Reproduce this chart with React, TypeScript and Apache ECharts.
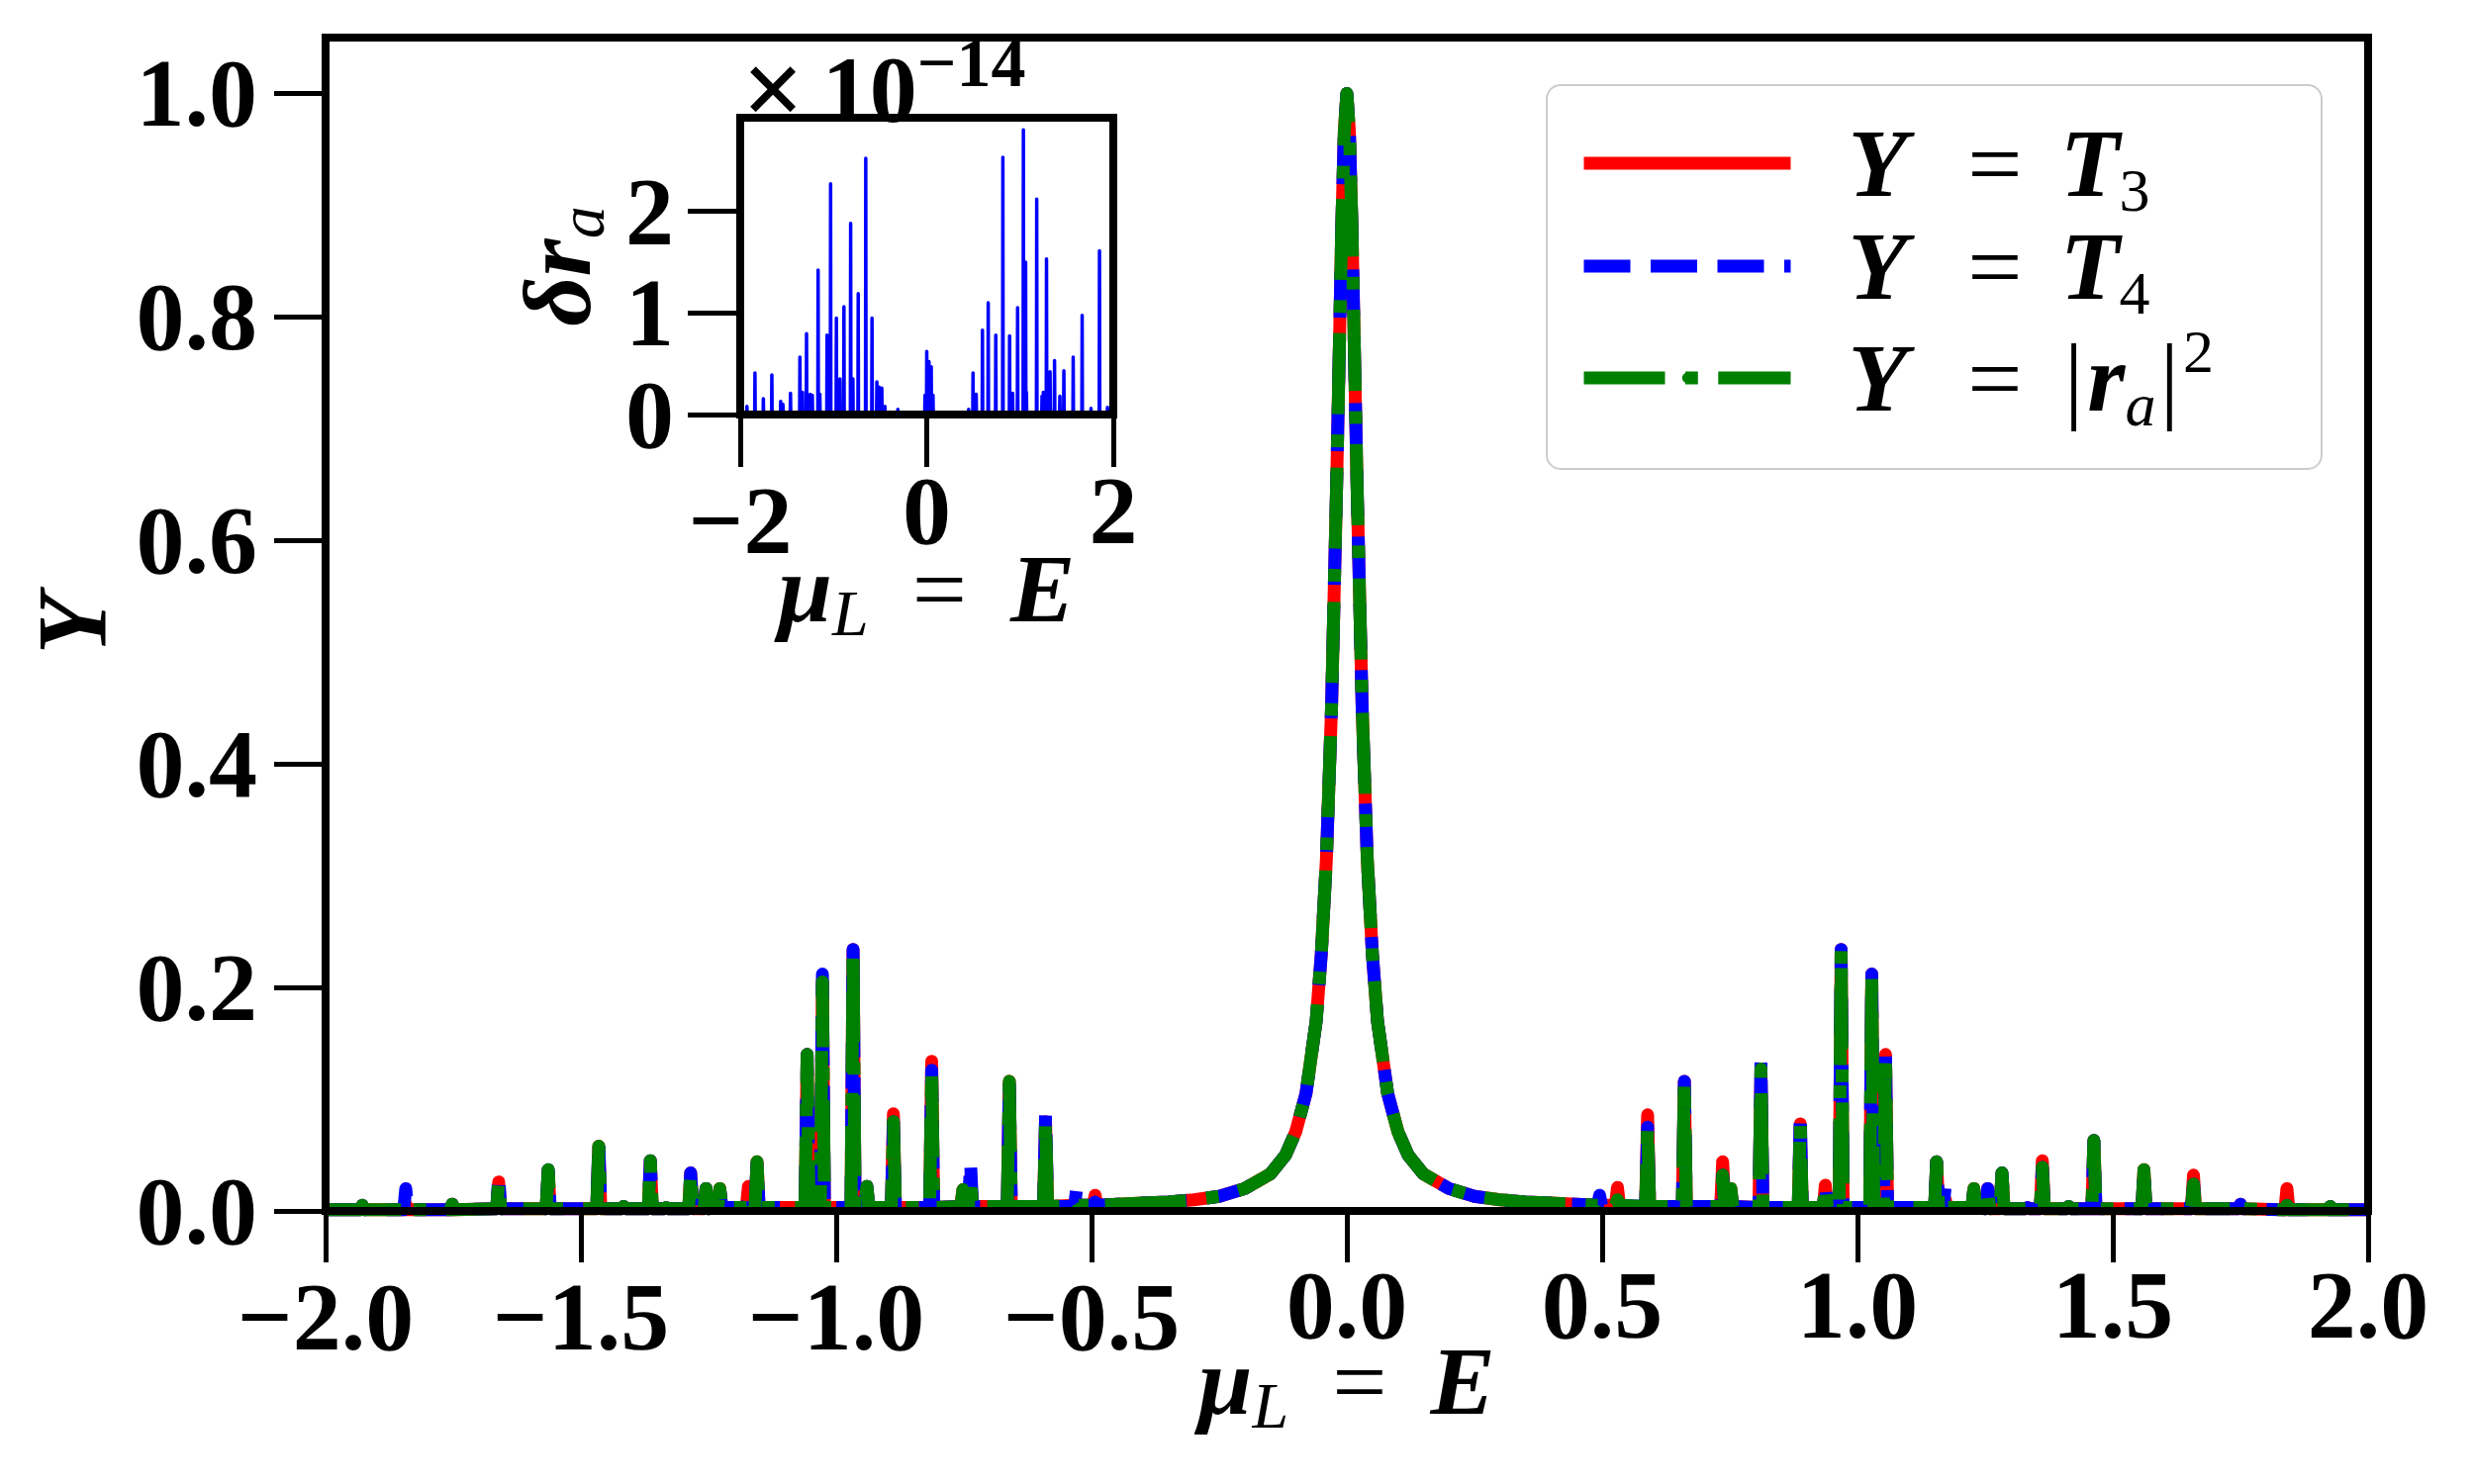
import React, { useEffect, useRef } from "react";
import * as echarts from "echarts";

const FONT = "Liberation Serif";

// ---------- Main panel: smooth background (wings + central resonance) ----------
const baseX = [
  -2.0, -1.5, -1.0, -0.6, -0.5, -0.45, -0.4, -0.35, -0.3, -0.25, -0.2, -0.15, -0.12, -0.1, -0.08, -0.06,
  -0.05, -0.04, -0.03, -0.02, -0.01, -0.005, 0, 0.005, 0.01, 0.02, 0.03, 0.04, 0.05, 0.06, 0.08, 0.1, 0.12,
  0.15, 0.2, 0.25, 0.3, 0.35, 0.4, 0.45, 0.5, 0.6, 1.0, 1.5, 2.0,
];
const baseY = [
  0.001, 0.002, 0.003, 0.004, 0.005, 0.006, 0.007, 0.008, 0.01, 0.013, 0.02, 0.033, 0.05, 0.071, 0.105, 0.17,
  0.23, 0.315, 0.45, 0.65, 0.88, 0.966, 1.0, 0.966, 0.88, 0.65, 0.45, 0.315, 0.23, 0.17, 0.105, 0.071, 0.05,
  0.033, 0.02, 0.013, 0.01, 0.008, 0.007, 0.006, 0.005, 0.004, 0.003, 0.002, 0.001,
];

// ---------- Main panel: narrow resonances (position, height per curve) ----------
const peakX = [
  -1.928, -1.843, -1.752, -1.661, -1.564, -1.465, -1.416, -1.364, -1.333, -1.285, -1.255, -1.228, -1.172,
  -1.155, -1.057, -1.027, -0.967, -0.94, -0.888, -0.84, -0.813, -0.752, -0.737, -0.661, -0.59, -0.529,
  -0.493, 0.495, 0.53, 0.589, 0.661, 0.736, 0.752, 0.811, 0.888, 0.937, 0.968, 1.028, 1.055, 1.155, 1.172,
  1.228, 1.255, 1.283, 1.333, 1.362, 1.414, 1.463, 1.561, 1.658, 1.75, 1.841, 1.926,
];
const peakT3 = [
  0.005, 0.006, 0.006, 0.026, 0.036, 0.058, 0.004, 0.045, 0.003, 0.034, 0.02, 0.02, 0.022,
  0.044, 0.14, 0.205, 0.234, 0.022, 0.087, 0.003, 0.134, 0.019, 0.03, 0.116, 0.08, 0.008,
  0.014, 0.008, 0.021, 0.086, 0.116, 0.044, 0.02, 0.127, 0.078, 0.023, 0.234, 0.212, 0.14, 0.044, 0.01,
  0.02, 0.02, 0.034, 0.003, 0.045, 0.004, 0.063, 0.037, 0.032, 0.006, 0.02, 0.004,
];
const peakT4 = [
  0.005, 0.02, 0.006, 0.032, 0.037, 0.063, 0.004, 0.045, 0.003, 0.034, 0.02, 0.02, 0.013,
  0.044, 0.14, 0.212, 0.234, 0.022, 0.08, 0.003, 0.126, 0.019, 0.044, 0.116, 0.086, 0.021,
  0.008, 0.014, 0.01, 0.075, 0.116, 0.032, 0.02, 0.134, 0.087, 0.023, 0.234, 0.212, 0.14, 0.044, 0.023,
  0.02, 0.02, 0.034, 0.003, 0.039, 0.004, 0.063, 0.037, 0.024, 0.006, 0.005, 0.004,
];
const peakRa = [
  0.005, 0.006, 0.006, 0.026, 0.037, 0.058, 0.004, 0.045, 0.003, 0.034, 0.02, 0.02, 0.013,
  0.044, 0.14, 0.205, 0.234, 0.022, 0.08, 0.003, 0.126, 0.019, 0.03, 0.116, 0.08, 0.008,
  0.008, 0.008, 0.01, 0.075, 0.116, 0.032, 0.02, 0.127, 0.078, 0.023, 0.234, 0.212, 0.14, 0.044, 0.01,
  0.02, 0.02, 0.034, 0.003, 0.039, 0.004, 0.063, 0.037, 0.024, 0.006, 0.005, 0.004,
];

// ---------- Inset: delta r_a (in units of 1e-14) ----------
const insetPeakX = [
  -1.928, -1.842, -1.752, -1.661, -1.566, -1.542, -1.461, -1.36, -1.332, -1.289, -1.25, -1.227, -1.165,
  -1.146, -1.069, -1.031, -0.969, -0.931, -0.888, -0.816, -0.792, -0.735, -0.654, -0.587, -0.535, -0.511,
  -0.482, -0.449, -0.31, -0.019, 0.0, 0.024, 0.048, 0.067, 0.449, 0.496, 0.53, 0.597, 0.659, 0.74, 0.816,
  0.888, 0.921, 0.974, 1.036, 1.06, 1.069, 1.179, 1.236, 1.25, 1.284, 1.322, 1.37, 1.427, 1.47, 1.57,
  1.666, 1.761, 1.852, 1.938,
];
const insetPeakY = [
  0.08, 0.41, 0.155, 0.39, 0.13, 0.1, 0.21, 0.565, 0.22, 0.795, 0.2, 0.19, 1.42,
  0.2, 0.78, 2.27, 0.95, 0.35, 1.06, 1.88, 0.35, 1.19, 2.52, 0.95, 0.32, 0.27,
  0.26, 0.08, 0.05, 0.19, 0.62, 0.52, 0.47, 0.19, 0.05, 0.41, 0.2, 0.83, 1.1, 0.78, 2.53,
  0.775, 0.21, 1.05, 2.8, 1.5, 0.22, 2.12, 0.18, 0.22, 1.53, 0.42, 0.53, 0.18, 0.43, 0.565,
  0.975, 0.06, 1.61, 0.07,
];

// ---------- Ticks ----------
const xTickStep = 0.5;
const yTicks = [0, 0.2, 0.4, 0.6, 0.8, 1.0];
const insetXTicks = [-2, 0, 2];
const insetYTicks = [0, 1, 2];

const SERIES_NAMES = ["T3", "T4", "ra"];
const LEGEND_TEXT: Record<string, string> = {
  T3: "{y0|Y}{eq|=}{m|T}{sub|3}",
  T4: "{y0|Y}{eq|=}{m|T}{sub|4}",
  ra: "{y3|Y}{eq|=}{bar||}{m|r}{subi|a}{bar||}{sup|2}",
};
const LEGEND_TOPS = [107, 211, 324];

const SPIKE = 0.004;
const INSET_SPIKE = 0.003;

function nearestBase(x: number) {
  let best = 0;
  for (let i = 1; i < baseX.length; i++) {
    if (Math.abs(baseX[i] - x) < Math.abs(baseX[best] - x)) best = i;
  }
  return baseY[best];
}

function buildCurve(h: number[]) {
  const pts: number[][] = baseX.map((x, i) => [x, baseY[i]]);
  peakX.forEach((x, i) => {
    const f = nearestBase(x);
    pts.push([x - SPIKE, f], [x, h[i]], [x + SPIKE, f]);
  });
  pts.sort((a, b) => a[0] - b[0]);
  return pts;
}

function buildInset() {
  const pts: number[][] = [[-2, 0]];
  insetPeakX.forEach((x, i) => {
    pts.push([x - INSET_SPIKE, 0], [x, insetPeakY[i]], [x + INSET_SPIKE, 0]);
  });
  pts.push([2, 0]);
  return pts;
}

const BIG = 98;
const TICK_FS = 98;
const LH = 72;
const mathRich = {
  b: { fontFamily: FONT, fontSize: BIG, fontStyle: "italic", fontWeight: "bold", lineHeight: LH, color: "#000" },
  s: { fontFamily: FONT, fontSize: 66, fontStyle: "italic", lineHeight: 60, padding: [48, 0, 0, 0], color: "#000" },
  e: { fontFamily: FONT, fontSize: BIG, lineHeight: LH, padding: [0, 44, 0, 44], color: "#000" },
};
const tickRich = {
  p: { fontFamily: FONT, fontSize: TICK_FS, fontWeight: "bold", color: "#000", lineHeight: LH },
  n: { fontFamily: FONT, fontSize: TICK_FS, fontWeight: "bold", color: "#000", lineHeight: LH, padding: [24, 0, 0, 0] },
};

const spine = { show: true, onZero: false, lineStyle: { color: "#000", width: 8, cap: "square" } };
const tickStyle = { color: "#000", width: 5 };

function frameAxis(grid: number, min: number, max: number, pos: string) {
  return {
    type: "value",
    gridIndex: grid,
    min,
    max,
    position: pos,
    z: 5,
    axisLine: spine,
    axisTick: { show: false },
    axisLabel: { show: false },
    splitLine: { show: false },
  };
}

export default function App() {
  const ref = useRef<HTMLDivElement>(null);
  useEffect(() => {
    if (!ref.current) return;
    const chart = echarts.init(ref.current, null, { renderer: "svg" });
    const legendBase = { fontFamily: FONT, fontSize: BIG, lineHeight: 100, verticalAlign: "middle" };
    const legendRich = {
      y0: { ...legendBase, fontStyle: "italic", fontWeight: "bold", padding: [0, 0, 0, 53] },
      y3: { ...legendBase, fontStyle: "italic", fontWeight: "bold", lineHeight: 126, padding: [0, 0, 0, 53] },
      m: { ...legendBase, fontStyle: "italic", fontWeight: "bold" },
      eq: { ...legendBase, padding: [0, 38, 0, 61] },
      bar: { ...legendBase, padding: [0, 4, 0, 4] },
      sub: { ...legendBase, fontSize: 62, lineHeight: 46, padding: [54, 0, 0, 0] },
      subi: { ...legendBase, fontSize: 62, fontStyle: "italic", lineHeight: 46, padding: [54, 0, 0, 0] },
      sup: { ...legendBase, fontSize: 62, lineHeight: 46, padding: [0, 0, 54, 0] },
    };
    const legends = SERIES_NAMES.map((name, i) => ({
      data: [name],
      orient: "vertical",
      left: 1594,
      top: LEGEND_TOPS[i],
      padding: 0,
      itemWidth: 209,
      itemHeight: 13,
      selectedMode: false,
      z: 6,
      lineStyle: { width: 13 },
      formatter: (n: string) => LEGEND_TEXT[n],
      textStyle: { color: "#000", rich: legendRich },
    }));
    const option = {
      animation: false,
      backgroundColor: "#fff",
      title: {
        text: "{x|×}{t|10}{s|−14}",
        left: 750,
        top: 40,
        padding: 0,
        textStyle: {
          rich: {
            x: { fontFamily: FONT, fontSize: 110, lineHeight: 100, padding: [0, 18, 0, 0], color: "#000" },
            t: { fontFamily: FONT, fontSize: 96, lineHeight: 100, color: "#000" },
            s: { fontFamily: FONT, fontSize: 70, lineHeight: 46, padding: [0, 0, 54, 0], color: "#000" },
          },
        },
      },
      graphic: [
        {
          type: "rect",
          z: 5,
          silent: true,
          shape: { x: 1563, y: 86, width: 783, height: 388, r: 14 },
          style: { fill: "rgba(255,255,255,0.8)", stroke: "#cccccc", lineWidth: 2 },
        },
      ],
      grid: [
        { left: 329, top: 38, width: 2064, height: 1186 },
        { left: 748, top: 119, width: 377, height: 300 },
      ],
      legend: legends,
      xAxis: [
        {
          type: "value",
          gridIndex: 0,
          min: -2,
          max: 2,
          interval: xTickStep,
          position: "bottom",
          z: 5,
          axisLine: spine,
          axisTick: { show: true, inside: false, length: 52, lineStyle: tickStyle },
          axisLabel: {
            margin: 59,
            formatter: (v: number) =>
              v < 0 ? `{n|−${Math.abs(v).toFixed(1)}}` : `{p|${v.toFixed(1)}}`,
            rich: tickRich,
          },
          splitLine: { show: false },
          name: "{b|μ}{s|L}{e|=}{b|E}",
          nameLocation: "middle",
          nameGap: 136,
          nameMoveOverlap: false,
          nameTextStyle: { color: "#000", rich: mathRich },
        },
        frameAxis(0, -2, 2, "top"),
        {
          type: "value",
          gridIndex: 1,
          min: -2,
          max: 2,
          position: "bottom",
          z: 5,
          axisLine: spine,
          axisTick: { show: true, inside: false, length: 53, lineStyle: tickStyle, customValues: insetXTicks },
          axisLabel: {
            margin: 61,
            customValues: insetXTicks,
            formatter: (v: number) => (v < 0 ? `{n|−${Math.abs(v)}}` : `{p|${v}}`),
            rich: { ...tickRich, n: { ...tickRich.n, padding: [20, 0, 0, 0] } },
          },
          splitLine: { show: false },
          name: "{b|μ}{s|L}{e|=}{b|E}",
          nameLocation: "middle",
          nameGap: 140,
          nameMoveOverlap: false,
          nameTextStyle: { color: "#000", rich: mathRich },
        },
        frameAxis(1, -2, 2, "top"),
      ],
      yAxis: [
        {
          type: "value",
          gridIndex: 0,
          min: 0,
          max: 1.05,
          position: "left",
          z: 5,
          axisLine: spine,
          axisTick: { show: true, inside: false, length: 52, lineStyle: tickStyle, customValues: yTicks },
          axisLabel: {
            margin: 69,
            customValues: yTicks,
            formatter: (v: number) => v.toFixed(1),
            color: "#000",
            fontFamily: FONT,
            fontSize: TICK_FS,
            fontWeight: "bold",
          },
          splitLine: { show: false },
          name: "Y",
          nameLocation: "middle",
          nameRotate: 90,
          nameGap: 207,
          nameMoveOverlap: false,
          nameTextStyle: { color: "#000", fontFamily: FONT, fontSize: 100, fontStyle: "italic", fontWeight: "bold" },
        },
        frameAxis(0, 0, 1.05, "right"),
        {
          type: "value",
          gridIndex: 1,
          min: 0,
          max: 2.92,
          position: "left",
          z: 5,
          axisLine: spine,
          axisTick: { show: true, inside: false, length: 53, lineStyle: tickStyle, customValues: insetYTicks },
          axisLabel: {
            margin: 67,
            customValues: insetYTicks,
            formatter: (v: number) => String(v),
            color: "#000",
            fontFamily: FONT,
            fontSize: TICK_FS,
            fontWeight: "bold",
          },
          splitLine: { show: false },
          name: "{b|δ}{b|r}{s|a}",
          nameLocation: "middle",
          nameRotate: 90,
          nameGap: 149,
          nameMoveOverlap: false,
          nameTextStyle: { color: "#000", rich: mathRich },
        },
        frameAxis(1, 0, 2.92, "right"),
      ],
      series: [
        {
          type: "line",
          name: "T3",
          xAxisIndex: 0,
          yAxisIndex: 0,
          data: buildCurve(peakT3),
          symbol: "none",
          showSymbol: false,
          silent: true,
          z: 2,
          itemStyle: { color: "#ff0000" },
          lineStyle: { color: "#ff0000", width: 13, type: "solid", join: "round", cap: "butt" },
        },
        {
          type: "line",
          name: "T4",
          xAxisIndex: 0,
          yAxisIndex: 0,
          data: buildCurve(peakT4),
          symbol: "none",
          showSymbol: false,
          silent: true,
          z: 3,
          itemStyle: { color: "#0000ff" },
          lineStyle: { color: "#0000ff", width: 13, type: [47, 20.5], join: "round", cap: "butt" },
        },
        {
          type: "line",
          name: "ra",
          xAxisIndex: 0,
          yAxisIndex: 0,
          data: buildCurve(peakRa),
          symbol: "none",
          showSymbol: false,
          silent: true,
          z: 4,
          itemStyle: { color: "#008000" },
          lineStyle: { color: "#008000", width: 13, type: [82, 20.5, 12.8, 20.5], join: "round", cap: "butt" },
        },
        {
          type: "line",
          name: "dra",
          xAxisIndex: 2,
          yAxisIndex: 2,
          data: buildInset(),
          symbol: "none",
          showSymbol: false,
          silent: true,
          z: 2,
          itemStyle: { color: "#0000ff" },
          lineStyle: { color: "#0000ff", width: 3.5, join: "round" },
        },
      ],
    };
    chart.setOption(option as any);
    return () => chart.dispose();
  }, []);
  return (
    <div
      ref={ref}
      style={{ position: "fixed", left: 0, top: 0, width: 2500, height: 1500, background: "#fff" }}
    />
  );
}
